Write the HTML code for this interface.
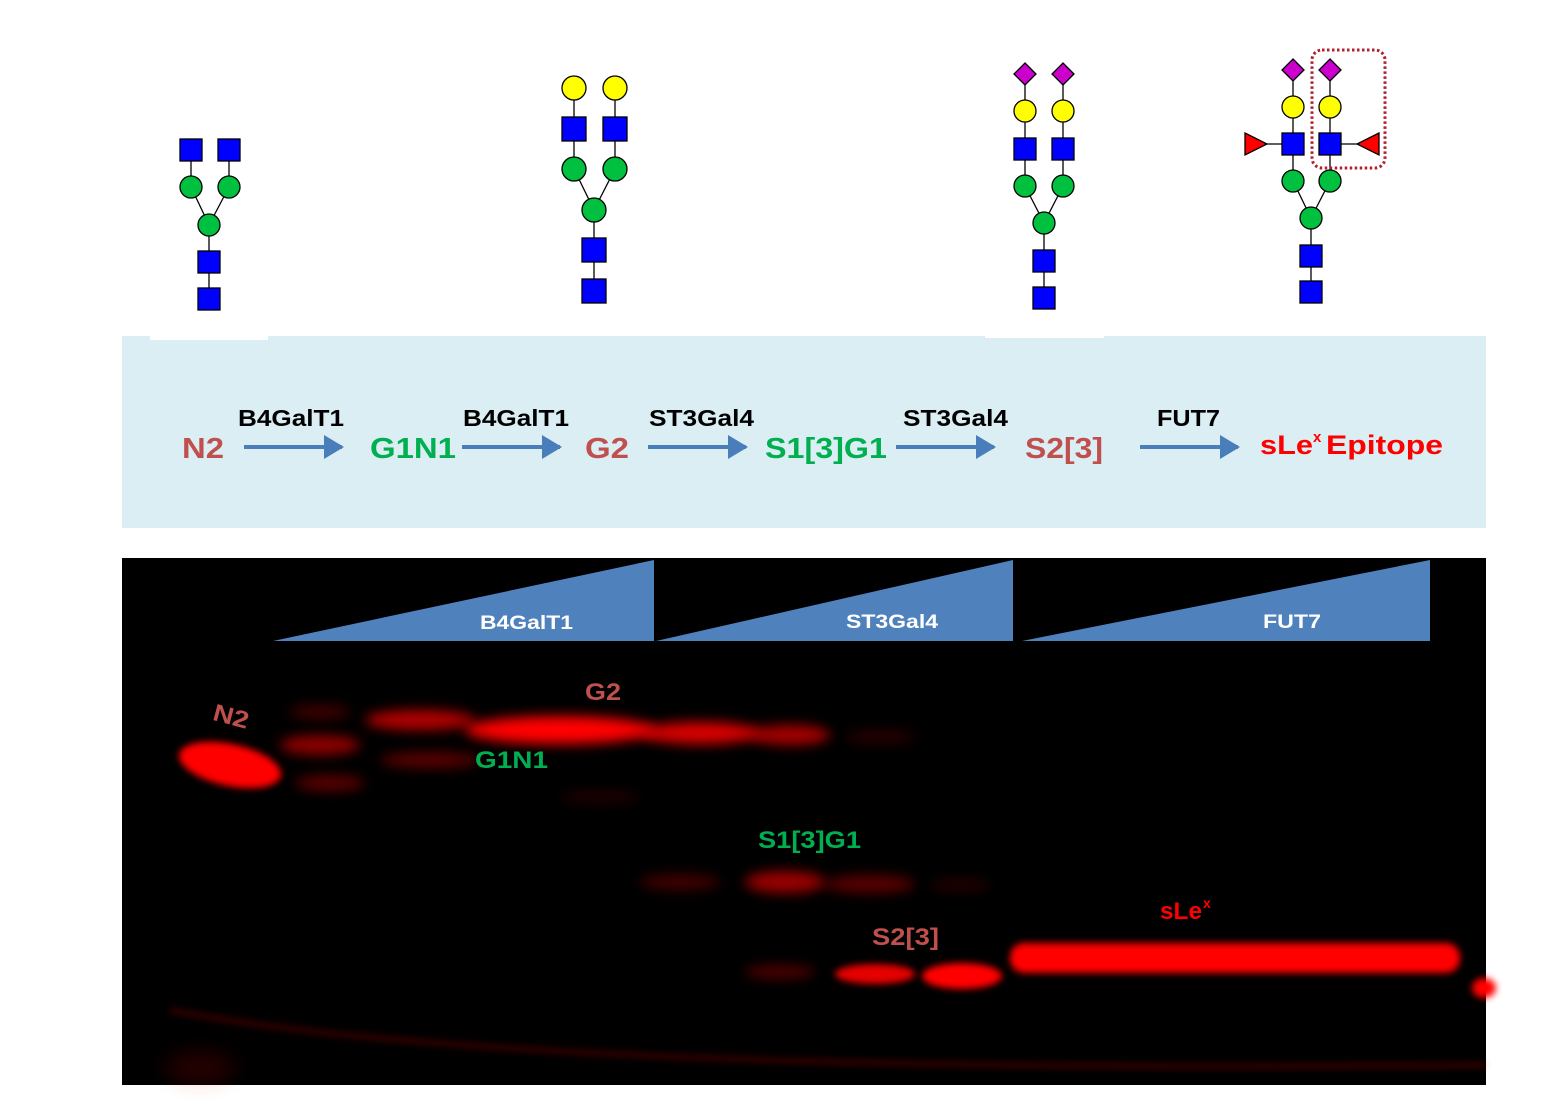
<!DOCTYPE html>
<html><head><meta charset="utf-8"><style>
html,body{margin:0;padding:0;background:#fff;}
svg{display:block;font-family:"Liberation Sans",sans-serif;font-weight:bold;}
</style></head><body>
<svg width="1564" height="1120" viewBox="0 0 1564 1120" xmlns="http://www.w3.org/2000/svg">
<defs>
<filter id="b6" x="-50%" y="-200%" width="200%" height="500%"><feGaussianBlur stdDeviation="6"/></filter>
<filter id="b10" x="-50%" y="-200%" width="200%" height="500%"><feGaussianBlur stdDeviation="10"/></filter>
<filter id="b4" x="-50%" y="-200%" width="200%" height="500%"><feGaussianBlur stdDeviation="3.5"/></filter>
<marker id="ah" markerWidth="6" markerHeight="6" refX="4.5" refY="3" orient="auto" markerUnits="strokeWidth"><path d="M0,0 L5,3 L0,6 z" fill="#4a7ebb"/></marker>
</defs>
<rect width="1564" height="1120" fill="#fff"/>

<!-- light band -->
<rect x="122" y="336" width="1364" height="192" fill="#dbeef3"/>
<rect x="150" y="334" width="118" height="6" fill="#fff"/>
<rect x="985" y="334" width="119" height="4" fill="#fff"/>

<g stroke="#000" stroke-width="1.3">
<!-- glycan 1 -->
<line x1="191" y1="150" x2="191" y2="187"/><line x1="229" y1="150" x2="229" y2="187"/>
<line x1="191" y1="187" x2="209" y2="225"/><line x1="229" y1="187" x2="209" y2="225"/>
<line x1="209" y1="225" x2="209" y2="299"/>
<rect x="180" y="139" width="22" height="22" fill="#0000ff"/><rect x="218" y="139" width="22" height="22" fill="#0000ff"/>
<circle cx="191" cy="187" r="11" fill="#00c040"/><circle cx="229" cy="187" r="11" fill="#00c040"/>
<circle cx="209" cy="225" r="11" fill="#00c040"/>
<rect x="198" y="251" width="22" height="22" fill="#0000ff"/><rect x="198" y="288" width="22" height="22" fill="#0000ff"/>

<!-- glycan 2 -->
<line x1="574" y1="88" x2="574" y2="169"/><line x1="615" y1="88" x2="615" y2="169"/>
<line x1="574" y1="169" x2="594" y2="210"/><line x1="615" y1="169" x2="594" y2="210"/>
<line x1="594" y1="210" x2="594" y2="291"/>
<circle cx="574" cy="88" r="12" fill="#ffff00"/><circle cx="615" cy="88" r="12" fill="#ffff00"/>
<rect x="562" y="117" width="24" height="24" fill="#0000ff"/><rect x="603" y="117" width="24" height="24" fill="#0000ff"/>
<circle cx="574" cy="169" r="12" fill="#00c040"/><circle cx="615" cy="169" r="12" fill="#00c040"/>
<circle cx="594" cy="210" r="12" fill="#00c040"/>
<rect x="582" y="238" width="24" height="24" fill="#0000ff"/><rect x="582" y="279" width="24" height="24" fill="#0000ff"/>

<!-- glycan 3 -->
<line x1="1025" y1="74" x2="1025" y2="186"/><line x1="1063" y1="74" x2="1063" y2="186"/>
<line x1="1025" y1="186" x2="1044" y2="223"/><line x1="1063" y1="186" x2="1044" y2="223"/>
<line x1="1044" y1="223" x2="1044" y2="298"/>
<path d="M1025,63 L1036,74 L1025,85 L1014,74 z" fill="#cc00cc"/><path d="M1063,63 L1074,74 L1063,85 L1052,74 z" fill="#cc00cc"/>
<circle cx="1025" cy="111" r="11" fill="#ffff00"/><circle cx="1063" cy="111" r="11" fill="#ffff00"/>
<rect x="1014" y="138" width="22" height="22" fill="#0000ff"/><rect x="1052" y="138" width="22" height="22" fill="#0000ff"/>
<circle cx="1025" cy="186" r="11" fill="#00c040"/><circle cx="1063" cy="186" r="11" fill="#00c040"/>
<circle cx="1044" cy="223" r="11" fill="#00c040"/>
<rect x="1033" y="250" width="22" height="22" fill="#0000ff"/><rect x="1033" y="287" width="22" height="22" fill="#0000ff"/>

<!-- glycan 4 -->
<line x1="1293" y1="70" x2="1293" y2="181"/><line x1="1330" y1="70" x2="1330" y2="181"/>
<line x1="1267" y1="144" x2="1293" y2="144"/><line x1="1330" y1="144" x2="1357" y2="144"/>
<line x1="1293" y1="181" x2="1311" y2="218"/><line x1="1330" y1="181" x2="1311" y2="218"/>
<line x1="1311" y1="218" x2="1311" y2="292"/>
<path d="M1293,59 L1304,70 L1293,81 L1282,70 z" fill="#cc00cc"/><path d="M1330,59 L1341,70 L1330,81 L1319,70 z" fill="#cc00cc"/>
<circle cx="1293" cy="107" r="11" fill="#ffff00"/><circle cx="1330" cy="107" r="11" fill="#ffff00"/>
<rect x="1282" y="133" width="22" height="22" fill="#0000ff"/><rect x="1319" y="133" width="22" height="22" fill="#0000ff"/>
<path d="M1245,133 L1267,144 L1245,155 z" fill="#ff0000"/><path d="M1379,133 L1357,144 L1379,155 z" fill="#ff0000"/>
<circle cx="1293" cy="181" r="11" fill="#00c040"/><circle cx="1330" cy="181" r="11" fill="#00c040"/>
<circle cx="1311" cy="218" r="11" fill="#00c040"/>
<rect x="1300" y="245" width="22" height="22" fill="#0000ff"/><rect x="1300" y="281" width="22" height="22" fill="#0000ff"/>
</g>
<rect x="1312" y="50" width="73" height="118" rx="10" fill="none" stroke="#b22030" stroke-width="3" stroke-dasharray="2.5,2.5"/>

<!-- pathway -->
<g stroke="#4a7ebb" stroke-width="4" marker-end="url(#ah)">
<line x1="244" y1="447" x2="342" y2="447"/>
<line x1="462" y1="447" x2="560" y2="447"/>
<line x1="648" y1="447" x2="746" y2="447"/>
<line x1="896" y1="447" x2="994" y2="447"/>
<line x1="1140" y1="447" x2="1238" y2="447"/>
</g>
<g font-size="23" fill="#000">
<text x="238" y="426" textLength="106" lengthAdjust="spacingAndGlyphs">B4GalT1</text>
<text x="463" y="426" textLength="106" lengthAdjust="spacingAndGlyphs">B4GalT1</text>
<text x="649" y="426" textLength="105" lengthAdjust="spacingAndGlyphs">ST3Gal4</text>
<text x="903" y="426" textLength="105" lengthAdjust="spacingAndGlyphs">ST3Gal4</text>
<text x="1157" y="426" textLength="63" lengthAdjust="spacingAndGlyphs">FUT7</text>
</g>
<g font-size="29">
<text x="182" y="458" fill="#c0504d" textLength="42" lengthAdjust="spacingAndGlyphs">N2</text>
<text x="370" y="458" fill="#00b050" textLength="86" lengthAdjust="spacingAndGlyphs">G1N1</text>
<text x="585" y="458" fill="#c0504d" textLength="44" lengthAdjust="spacingAndGlyphs">G2</text>
<text x="765" y="458" fill="#00b050" textLength="122" lengthAdjust="spacingAndGlyphs">S1[3]G1</text>
<text x="1025" y="458" fill="#c0504d" textLength="78" lengthAdjust="spacingAndGlyphs">S2[3]</text>
<text x="1260" y="454" fill="#ff0000" font-size="27" textLength="53" lengthAdjust="spacingAndGlyphs">sLe</text>
<text x="1313" y="442" fill="#ff0000" font-size="15">x</text>
<text x="1326" y="454" fill="#ff0000" font-size="27" textLength="117" lengthAdjust="spacingAndGlyphs">Epitope</text>
</g>

<!-- gel -->
<rect x="122" y="558" width="1364" height="527" fill="#000"/>
<polygon points="273,641 654,560 654,641" fill="#4f81bd"/>
<polygon points="656,641 1013,560 1013,641" fill="#4f81bd"/>
<polygon points="1022,641 1430,560 1430,641" fill="#4f81bd"/>
<g font-size="19" fill="#fff">
<text x="480" y="629" textLength="93" lengthAdjust="spacingAndGlyphs">B4GalT1</text>
<text x="846" y="628" textLength="92" lengthAdjust="spacingAndGlyphs">ST3Gal4</text>
<text x="1263" y="628" textLength="58" lengthAdjust="spacingAndGlyphs">FUT7</text>
</g>

<!-- bands -->
<g fill="#ff0000">
<ellipse cx="230" cy="765" rx="52" ry="21" transform="rotate(12 230 765)" filter="url(#b4)"/>
<ellipse cx="320" cy="745" rx="40" ry="10" opacity="0.55" filter="url(#b6)"/>
<ellipse cx="330" cy="783" rx="35" ry="8" opacity="0.35" filter="url(#b6)"/>
<ellipse cx="430" cy="760" rx="50" ry="8" opacity="0.35" filter="url(#b6)"/>
<ellipse cx="320" cy="712" rx="30" ry="7" opacity="0.25" filter="url(#b6)"/>
<ellipse cx="420" cy="720" rx="55" ry="10" opacity="0.7" filter="url(#b6)"/>
<ellipse cx="560" cy="730" rx="95" ry="14" filter="url(#b6)"/>
<ellipse cx="700" cy="733" rx="60" ry="11" opacity="0.85" filter="url(#b6)"/>
<ellipse cx="790" cy="735" rx="40" ry="10" opacity="0.65" filter="url(#b6)"/>
<ellipse cx="880" cy="737" rx="35" ry="7" opacity="0.15" filter="url(#b6)"/>
<ellipse cx="600" cy="797" rx="40" ry="6" opacity="0.12" filter="url(#b6)"/>
<ellipse cx="680" cy="882" rx="40" ry="8" opacity="0.25" filter="url(#b6)"/>
<ellipse cx="785" cy="882" rx="40" ry="11" opacity="0.6" filter="url(#b6)"/>
<ellipse cx="870" cy="884" rx="45" ry="9" opacity="0.35" filter="url(#b6)"/>
<ellipse cx="960" cy="885" rx="30" ry="6" opacity="0.15" filter="url(#b6)"/>
<ellipse cx="780" cy="972" rx="35" ry="7" opacity="0.3" filter="url(#b6)"/>
<ellipse cx="875" cy="974" rx="40" ry="10" opacity="0.9" filter="url(#b4)"/>
<ellipse cx="962" cy="976" rx="40" ry="13" filter="url(#b4)"/>
<rect x="1010" y="943" width="450" height="30" rx="14" filter="url(#b4)"/>
<ellipse cx="1484" cy="988" rx="12" ry="10" filter="url(#b4)"/>
<path d="M170,1010 Q500,1075 1486,1065" stroke="#ff0000" stroke-width="6" fill="none" opacity="0.2" filter="url(#b4)"/>
<ellipse cx="200" cy="1068" rx="35" ry="16" opacity="0.15" filter="url(#b10)"/>
</g>

<!-- gel labels -->
<text x="213" y="723" font-size="24" fill="#c0504d" transform="rotate(15 225 716)" textLength="36" lengthAdjust="spacingAndGlyphs">N2</text>
<text x="585" y="700" font-size="24" fill="#c0504d" textLength="36" lengthAdjust="spacingAndGlyphs">G2</text>
<text x="475" y="768" font-size="24" fill="#00b050" textLength="73" lengthAdjust="spacingAndGlyphs">G1N1</text>
<text x="758" y="848" font-size="24" fill="#00b050" textLength="103" lengthAdjust="spacingAndGlyphs">S1[3]G1</text>
<text x="872" y="945" font-size="24" fill="#c0504d" textLength="67" lengthAdjust="spacingAndGlyphs">S2[3]</text>
<text x="1160" y="919" font-size="24" fill="#ff0000" textLength="42" lengthAdjust="spacingAndGlyphs">sLe</text>
<text x="1203" y="908" font-size="14" fill="#ff0000">x</text>
</svg>
</body></html>
